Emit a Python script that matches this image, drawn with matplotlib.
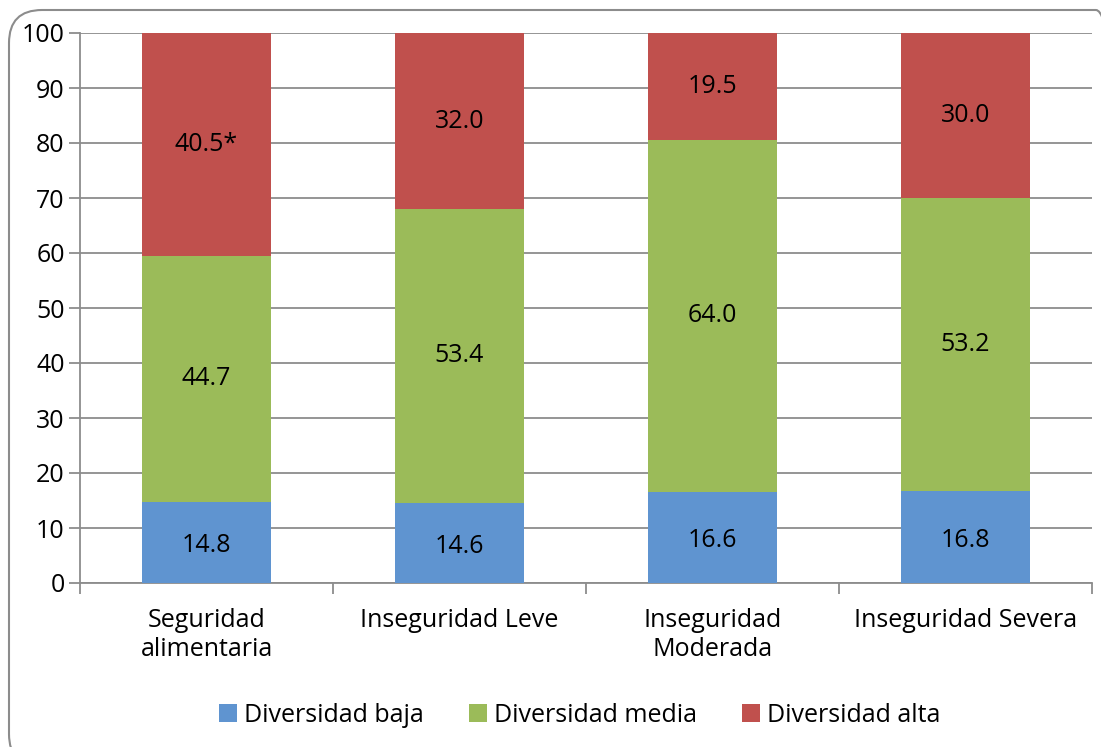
import matplotlib
matplotlib.use("Agg")
import matplotlib.pyplot as plt
import numpy as np
from matplotlib.patches import FancyBboxPatch

plt.rcParams['font.family'] = ['Open Sans', 'DejaVu Sans']

# data
categories = ["Seguridad\nalimentaria", "Inseguridad Leve", "Inseguridad\nModerada", "Inseguridad Severa"]
baja = [14.8, 14.6, 16.6, 16.8]
media = [44.7, 53.4, 64.0, 53.2]
alta = [40.5, 32.0, 19.5, 30.0]
alta_labels = ["40.5*", "32.0", "19.5", "30.0"]
series_names = ["Diversidad baja", "Diversidad media", "Diversidad alta"]
colors = ["#5F94D0", "#9BBB59", "#C0504D"]

FS = 18

fig = plt.figure(figsize=(11.01, 7.47), dpi=100)
ax = fig.add_axes([80/1101, 1-583/747, (1092-80)/1101, (583-33)/747])

x = np.arange(len(categories))
w = 0.51
bottom = np.zeros(len(categories))
for vals, name, c in zip([baja, media, alta], series_names, colors):
    ax.bar(x, vals, w, bottom=bottom, color=c, label=name, zorder=3)
    bottom = bottom + np.array(vals)

# labels in the middle of each segment
for i in range(len(categories)):
    ax.text(x[i], baja[i]/2 - 0.6, f"{baja[i]:.1f}", ha='center', va='center', fontsize=FS, zorder=4)
    ax.text(x[i], baja[i] + media[i]/2, f"{media[i]:.1f}", ha='center', va='center', fontsize=FS, zorder=4)
    ax.text(x[i], baja[i] + media[i] + alta[i]/2, alta_labels[i], ha='center', va='center', fontsize=FS, zorder=4)

ax.set_ylim(0, 100)
ax.set_xlim(-0.5, len(categories)-0.5)
ax.set_yticks(np.arange(0, 101, 10))
ax.yaxis.grid(True, color='#8C8C8C', linewidth=1.3, zorder=0)
ax.set_xticks(x)
ax.set_xticklabels(categories, fontsize=FS, linespacing=1.2)
ax.set_xticks(np.arange(-0.5, len(categories), 1), minor=True)
ax.tick_params(axis='x', which='major', length=0, pad=18)
ax.tick_params(axis='x', which='minor', length=8, width=1.3, color='#8C8C8C', direction='out')
ax.tick_params(axis='y', labelsize=FS, length=8, width=1.3, color='#8C8C8C', pad=3)
for s in ['top', 'right']:
    ax.spines[s].set_visible(False)
for s in ['left', 'bottom']:
    ax.spines[s].set_color('#8C8C8C')
    ax.spines[s].set_linewidth(1.3)

fig.legend(loc='center', bbox_to_anchor=(580/1101, 1-715/747), ncol=3, frameon=False,
           fontsize=FS, handlelength=0.7, handleheight=0.7, handletextpad=0.3, columnspacing=1.8)

border = FancyBboxPatch((9/1101, -20/747), 1120/1101, 757/747,
                        boxstyle="round,pad=0,rounding_size=0.03",
                        transform=fig.transFigure, fill=False, edgecolor='#8C8C8C',
                        linewidth=1.5, mutation_aspect=1101/747)
fig.patches.append(border)

fig.savefig("out.png", dpi=100)
